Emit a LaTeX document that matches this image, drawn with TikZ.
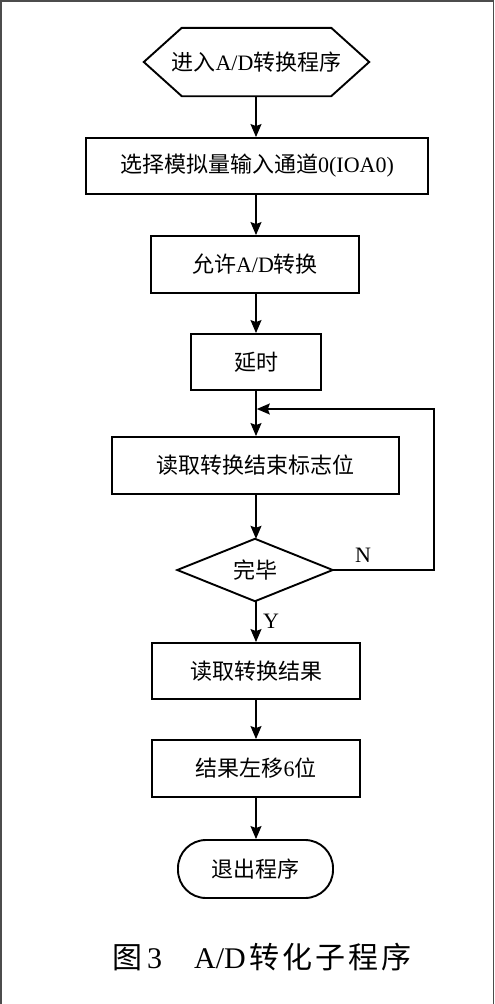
\documentclass[tikz,border=0pt]{standalone}
\usepackage{fontspec}
\setmainfont{Liberation Serif}
\newfontfamily\cjk{Noto Sans CJK SC}
\newfontfamily\cjkcap[LetterSpace=10]{Noto Sans CJK SC}
\usetikzlibrary{arrows.meta}
\newcommand{\zh}[1]{{\cjk #1}}
\begin{document}
\begin{tikzpicture}[x=1pt,y=-1pt,
  every node/.style={inner sep=0pt, font=\fontsize{22}{26}\selectfont},
  procbox/.style={draw, line width=1.9pt, rectangle},
  shapeline/.style={line width=1.9pt, line join=miter},
  flow/.style={line width=1.4pt, -{Stealth[length=13pt,width=11pt,inset=2pt]}},
  lbl/.style={font=\fontsize{22}{26}\selectfont}
]
\useasboundingbox (0,0) rectangle (495,1004);
% frame
\draw[line width=1.6pt, draw=black!70] (0.8,1004) -- (0.8,0.8) -- (493.6,0.8) -- (493.6,1004);

% start hexagon
\node (hex) [minimum width=225pt, minimum height=68pt] at (256.5,62) {\zh{进入}A/D\zh{转换程序}};
\draw[shapeline] (hex.west) -- ([xshift=38pt]hex.north west) -- ([xshift=-38pt]hex.north east)
  -- (hex.east) -- ([xshift=-38pt]hex.south east) -- ([xshift=38pt]hex.south west) -- cycle;

\node (b1) [procbox, minimum width=342pt, minimum height=56pt] at (257,166) {\zh{选择模拟量输入通道}0(IOA0)};
\node (b2) [procbox, minimum width=208pt, minimum height=57pt] at (255,264.5) {\zh{允许}A/D\zh{转换}};
\node (b3) [procbox, minimum width=130pt, minimum height=56pt] at (256,362) {\zh{延时}};
\node (b4) [procbox, minimum width=287pt, minimum height=57pt] at (255.5,465.5) {\zh{读取转换结束标志位}};

% decision diamond
\node (d) [minimum width=155pt, minimum height=62pt] at (255,570) {\zh{完毕}};
\draw[shapeline] (d.west) -- (d.north) -- (d.east) -- (d.south) -- cycle;

\node (b5) [procbox, minimum width=208pt, minimum height=56pt] at (256,671) {\zh{读取转换结果}};
\node (b6) [procbox, minimum width=208pt, minimum height=57pt] at (256,768.5) {\zh{结果左移}6\zh{位}};
\node (t) [procbox, rounded corners=28pt, minimum width=155pt, minimum height=58pt] at (255.5,869) {\zh{退出程序}};

% connectors
\draw[flow] (hex.south -| 256,0) -- (b1.north -| 256,0);
\draw[flow] (b1.south -| 256,0) -- (b2.north -| 256,0);
\draw[flow] (b2.south -| 256,0) -- (b3.north -| 256,0);
\draw[flow] (b3.south -| 256,0) -- (b4.north -| 256,0);
\draw[flow] (b4.south -| 256,0) -- (d.north -| 256,0);
\draw[flow] (d.south -| 256,0) -- (b5.north -| 256,0);
\draw[flow] (b5.south -| 256,0) -- (b6.north -| 256,0);
\draw[flow] (b6.south -| 256,0) -- (t.north -| 256,0);

% loop back
\coordinate (jn) at (256.8,409);
\coordinate (rt) at (434,409);
\draw[flow] (d.east) -| (rt) -- (jn);

\node[lbl] (nl) at (363,555) {N};
\node[lbl] (yl) at (271,621) {Y};

% caption
\node (cap) [anchor=west, font=\fontsize{30}{34}\selectfont] at (112,957)
  {\zh{图}\hspace{5pt}3\hspace{32pt}A/D\hspace{4pt}{\cjkcap 转化子程序}};
\end{tikzpicture}
\end{document}
